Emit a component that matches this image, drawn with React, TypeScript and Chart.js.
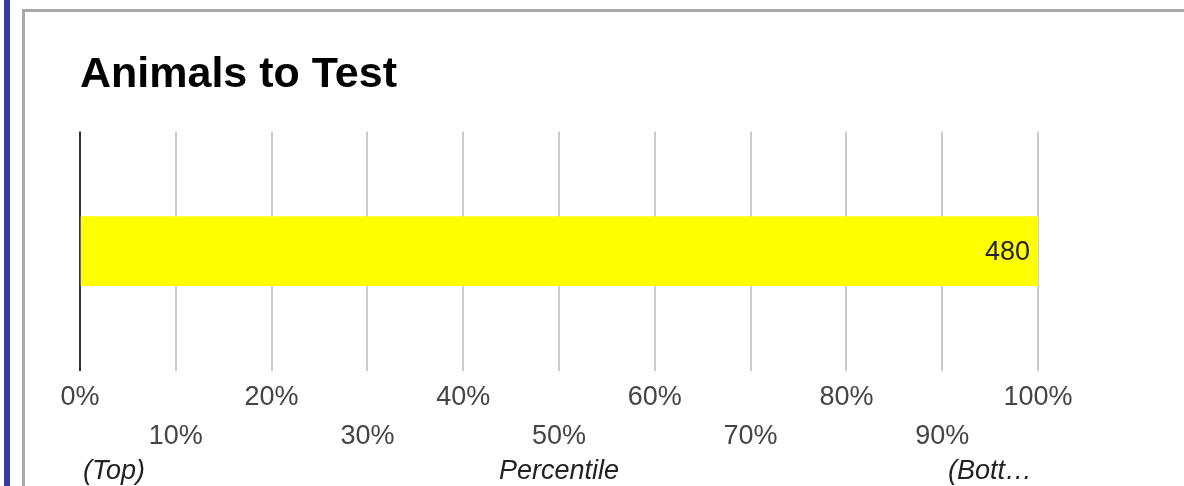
import React, { useEffect, useRef } from 'react';
import { Chart, registerables } from 'chart.js';

Chart.register(...registerables);

const chartTitle = 'Animals to Test';
const categories = ['Animals to Test'];
const percentileValues = [100];
const countLabels = ['480'];
const tickValues = [0, 10, 20, 30, 40, 50, 60, 70, 80, 90, 100];
const axisCaptions = ['(Top)', 'Percentile', '(Bott…'];

const FONT = "Arial, 'Liberation Sans', Helvetica, sans-serif";

export default function App() {
  const ref = useRef<HTMLCanvasElement | null>(null);

  useEffect(() => {
    if (!ref.current) return;

    const barLabelPlugin = {
      id: 'barLabels',
      afterDatasetsDraw(chart: any) {
        const ctx = chart.ctx;
        const meta = chart.getDatasetMeta(0);
        ctx.save();
        ctx.font = `27px ${FONT}`;
        ctx.fillStyle = '#222222';
        ctx.textAlign = 'right';
        ctx.textBaseline = 'middle';
        meta.data.forEach((el: any, i: number) => {
          ctx.fillText(countLabels[i], el.x - 8, el.y + 1);
        });
        ctx.restore();
      },
    };

    const captionPlugin = {
      id: 'captions',
      afterDraw(chart: any) {
        const ctx = chart.ctx;
        const { left, right } = chart.chartArea;
        const y = chart.scales.x.bottom + 8;
        ctx.save();
        ctx.font = `italic 27px ${FONT}`;
        ctx.fillStyle = '#222222';
        ctx.textBaseline = 'middle';
        ctx.textAlign = 'left';
        ctx.fillText(axisCaptions[0], left + 3, y);
        ctx.textAlign = 'center';
        ctx.fillText(axisCaptions[1], (left + right) / 2, y);
        ctx.textAlign = 'right';
        ctx.fillText(axisCaptions[2], right - 6, y);
        ctx.restore();
      },
    };

    const chart = new Chart(ref.current, {
      type: 'bar',
      data: {
        labels: categories,
        datasets: [
          {
            data: percentileValues,
            backgroundColor: '#ffff00',
            borderWidth: 0,
            barThickness: 69,
          },
        ],
      },
      options: {
        indexAxis: 'y',
        responsive: false,
        animation: false,
        layout: {
          padding: { left: 80, right: 146, top: 49, bottom: 23 },
        },
        plugins: {
          legend: { display: false },
          tooltip: { enabled: false },
          title: {
            display: true,
            text: chartTitle,
            align: 'start',
            color: '#000000',
            font: { family: FONT, size: 43, weight: 'bold', lineHeight: 1.2 },
            padding: { top: 0, bottom: 31 },
          },
        },
        scales: {
          x: {
            type: 'linear',
            min: 0,
            max: 100,
            afterBuildTicks(scale: any) {
              scale.ticks = tickValues.map((v) => ({ value: v }));
            },
            border: { display: false },
            grid: {
              drawTicks: false,
              lineWidth: 2,
              color: (c: any) => (c.tick && c.tick.value === 0 ? '#333333' : '#cccccc'),
            },
            ticks: {
              autoSkip: false,
              maxRotation: 0,
              minRotation: 0,
              padding: 7,
              color: '#444444',
              font: { family: FONT, size: 27, lineHeight: 1.45 },
              callback: (value: any, index: number) =>
                index % 2 === 0 ? [`${value}%`] : ['', `${value}%`],
            },
          },
          y: {
            type: 'category',
            display: false,
            grid: { display: false },
          },
        },
      },
      plugins: [barLabelPlugin, captionPlugin],
    });

    return () => chart.destroy();
  }, []);

  return (
    <div style={{ position: 'absolute', left: 0, top: 0, width: 1184, height: 486, overflow: 'hidden', background: '#ffffff' }}>
      <div style={{ position: 'absolute', left: 4, top: 0, width: 6, height: 486, background: '#3b3b9f' }} />
      <div
        style={{
          position: 'absolute',
          left: 22,
          top: 9,
          width: 1300,
          height: 600,
          borderLeft: '3px solid #a8a8a8',
          borderTop: '3px solid #a8a8a8',
        }}
      />
      <canvas ref={ref} width={1184} height={486} style={{ position: 'absolute', left: 0, top: 0 }} />
    </div>
  );
}
